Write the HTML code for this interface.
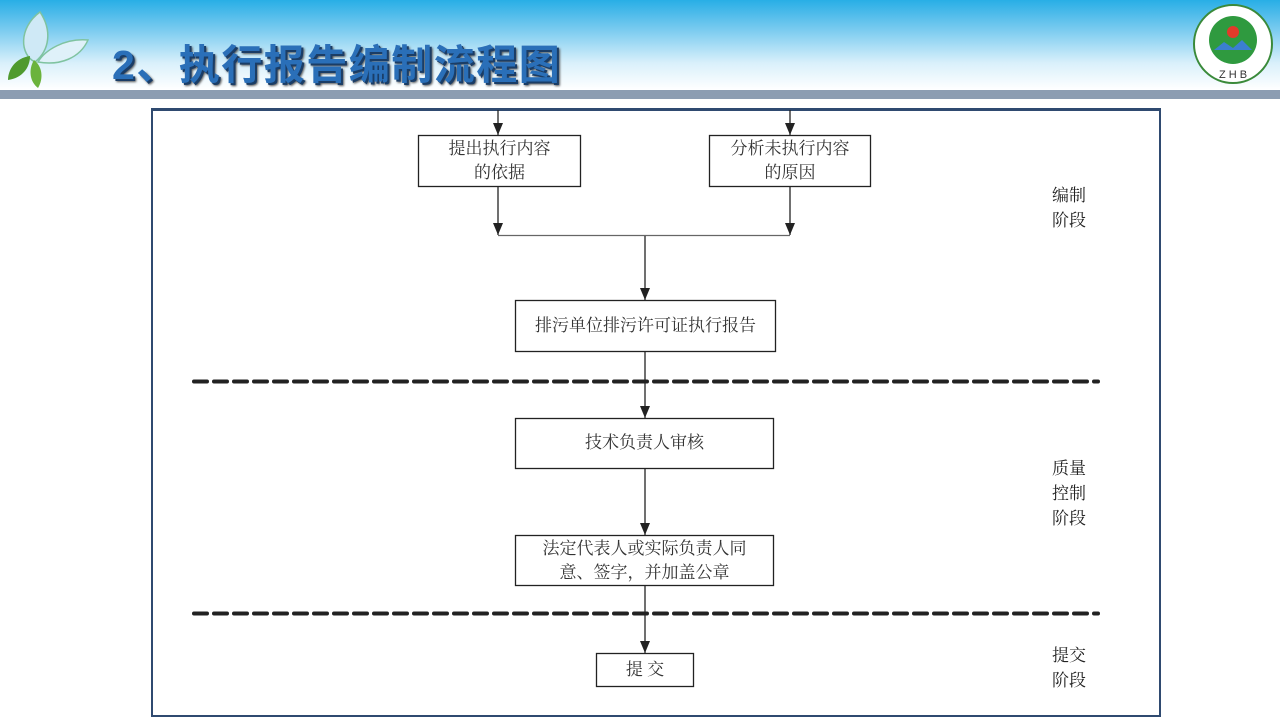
<!DOCTYPE html>
<html><head><meta charset="utf-8"><style>
html,body{margin:0;padding:0;width:1280px;height:720px;overflow:hidden;background:#fff;}
.hdr{position:absolute;left:0;top:0;width:1280px;height:90px;background:linear-gradient(#28aee6 0%,#7fcdf0 35%,#d9f0fb 70%,#fff 100%);}
.bar{position:absolute;left:0;top:90px;width:1280px;height:9px;background:#8c9db2;}
.title{position:absolute;left:112px;top:31px;font:bold 41px "Liberation Sans","Noto Sans CJK SC",sans-serif;color:#2a6fb8;letter-spacing:1.5px;text-shadow:2px 2px 0 #1a3d66,3px 3px 2px #555;}
.frame{position:absolute;left:151px;top:108px;width:1006px;height:604px;border:2px solid #2f4a70;border-top-width:3px;}
.t{position:absolute;font:17px "Liberation Serif","Noto Serif CJK SC",serif;color:#333;text-align:center;line-height:24px;}
.lab{position:absolute;font:17px "Liberation Serif","Noto Serif CJK SC",serif;color:#222;line-height:25px;}
</style></head><body>
<div class="hdr"></div><div class="bar"></div>
<svg style="position:absolute;left:0;top:0" width="100" height="90">
<path d="M40 12 C18 28 20 55 35 62 C50 50 52 30 40 12Z" fill="#cfe9f6" stroke="#7fc3a0" stroke-width="1.5"/>
<path d="M88 40 C65 38 45 50 38 62 C60 66 80 58 88 40Z" fill="#dff1f9" stroke="#7fc3a0" stroke-width="1.5"/>
<path d="M30 56 C15 58 8 70 8 80 C22 78 30 68 30 56Z" fill="#4f9a2e"/>
<path d="M34 60 C28 70 30 82 38 88 C44 78 42 66 34 60Z" fill="#6bb33c"/>
</svg>
<div class="title">2、执行报告编制流程图</div>
<svg style="position:absolute;left:1190px;top:2px" width="86" height="84">
<circle cx="43" cy="42" r="39" fill="#fff" stroke="#3a8a3a" stroke-width="2"/>
<circle cx="43" cy="38" r="24" fill="#2f9a3f"/>
<circle cx="43" cy="30" r="6" fill="#e23a2a"/>
<path d="M24 48 L34 40 L43 46 L52 38 L62 48Z" fill="#3b7fd0"/>
<text x="43" y="76" font-family="Liberation Sans" font-size="11" fill="#333" text-anchor="middle">Z H B</text>
</svg>
<div class="frame"></div>
<svg style="position:absolute;left:0;top:0" width="1280" height="720">
<defs><marker id="a" markerWidth="12" markerHeight="10" refX="12" refY="5" orient="auto" markerUnits="userSpaceOnUse" viewBox="0 0 12 10"><path d="M0 0 L12 5 L0 10Z" fill="#222"/></marker></defs>
<g stroke="#222" stroke-width="1.3" fill="#fff">
<rect x="418.5" y="135.5" width="162" height="51"/>
<rect x="709.5" y="135.5" width="161" height="51"/>
<rect x="515.5" y="300.5" width="260" height="51"/>
<rect x="515.5" y="418.5" width="258" height="50"/>
<rect x="515.5" y="535.5" width="258" height="50"/>
<rect x="596.5" y="653.5" width="97" height="33"/>
</g>
<g stroke="#222" stroke-width="1.3">
<line x1="498" y1="110" x2="498" y2="135" marker-end="url(#a)"/>
<line x1="790" y1="110" x2="790" y2="135" marker-end="url(#a)"/>
<line x1="498" y1="187" x2="498" y2="235" marker-end="url(#a)"/>
<line x1="790" y1="187" x2="790" y2="235" marker-end="url(#a)"/>
<line x1="498" y1="235.5" x2="790" y2="235.5" stroke="#666"/>
<line x1="645" y1="236" x2="645" y2="300" marker-end="url(#a)"/>
<line x1="645" y1="352" x2="645" y2="418" marker-end="url(#a)"/>
<line x1="645" y1="469" x2="645" y2="535" marker-end="url(#a)"/>
<line x1="645" y1="586" x2="645" y2="653" marker-end="url(#a)"/>
</g>
<g stroke="#222" stroke-width="4" stroke-dasharray="13 7" stroke-linecap="round">
<line x1="194" y1="381.5" x2="1098" y2="381.5"/>
<line x1="194" y1="613.5" x2="1098" y2="613.5"/>
</g>
</svg>
<div class="t" style="left:418px;top:137px;width:163px">提出执行内容<br>的依据</div>
<div class="t" style="left:709px;top:137px;width:162px">分析未执行内容<br>的原因</div>
<div class="t" style="left:515px;top:314px;width:261px">排污单位排污许可证执行报告</div>
<div class="t" style="left:515px;top:431px;width:259px">技术负责人审核</div>
<div class="t" style="left:515px;top:537px;width:259px">法定代表人或实际负责人同<br>意、签字，并加盖公章</div>
<div class="t" style="left:596px;top:658px;width:98px">提 交</div>
<div class="lab" style="left:1052px;top:183px">编制<br>阶段</div>
<div class="lab" style="left:1052px;top:456px">质量<br>控制<br>阶段</div>
<div class="lab" style="left:1052px;top:643px">提交<br>阶段</div>
</body></html>
